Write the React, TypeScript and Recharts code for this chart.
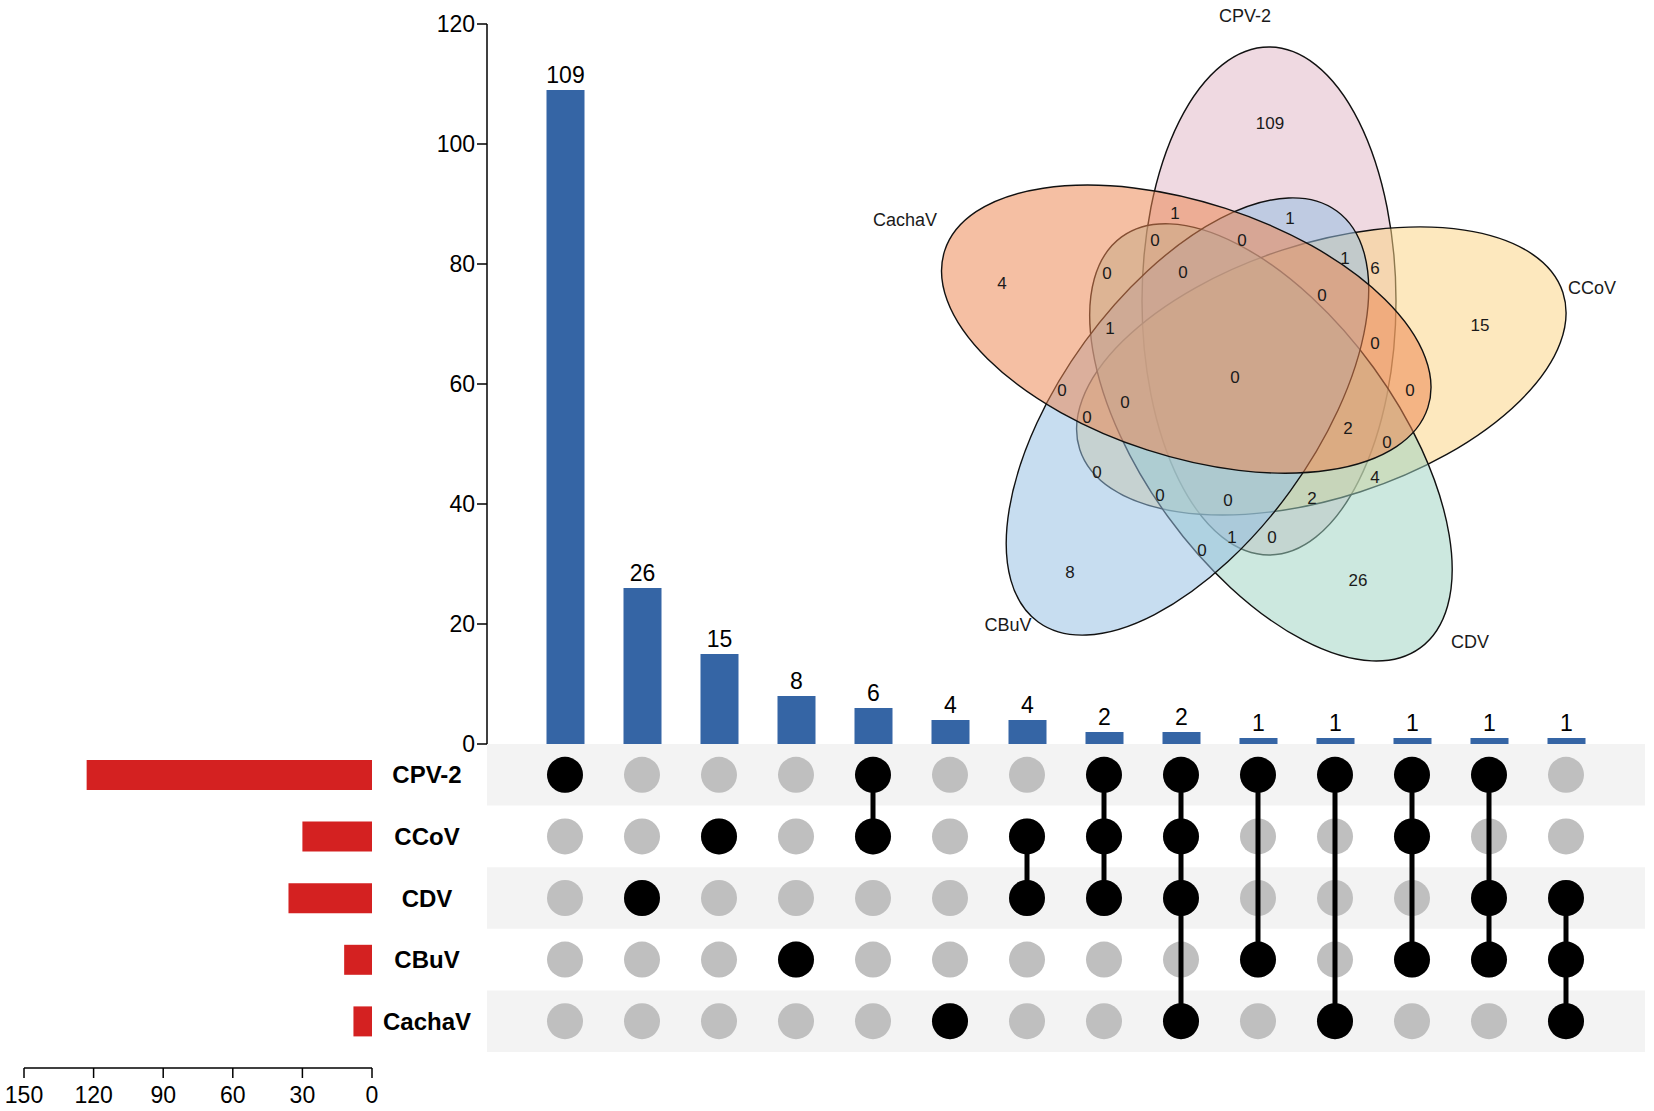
import React from 'react';
import {
  BarChart,
  Bar,
  XAxis,
  YAxis,
  LabelList,
  ScatterChart,
  Scatter,
  ReferenceArea,
} from 'recharts';

// ---------------- DATA ----------------
const sets = ['CPV-2', 'CCoV', 'CDV', 'CBuV', 'CachaV'];
const setSizes = [123, 30, 36, 12, 8];
const setSizeTicks = [0, 30, 60, 90, 120, 150];

const intersectionSizes = [109, 26, 15, 8, 6, 4, 4, 2, 2, 1, 1, 1, 1, 1];
const intersectionMembers = [
  ['CPV-2'],
  ['CDV'],
  ['CCoV'],
  ['CBuV'],
  ['CPV-2', 'CCoV'],
  ['CachaV'],
  ['CCoV', 'CDV'],
  ['CPV-2', 'CCoV', 'CDV'],
  ['CPV-2', 'CCoV', 'CDV', 'CachaV'],
  ['CPV-2', 'CBuV'],
  ['CPV-2', 'CachaV'],
  ['CPV-2', 'CCoV', 'CBuV'],
  ['CPV-2', 'CDV', 'CBuV'],
  ['CDV', 'CBuV', 'CachaV'],
];
const intersectionTicks = [0, 20, 40, 60, 80, 100, 120];

// Venn: region counts (value) and set names, in the order of the label layout below
const vennCounts = [109, 1, 1, 0, 0, 1, 6, 4, 0, 0, 0, 15, 1, 0, 0, 0, 0, 0, 0, 2, 0, 0, 4, 0, 0, 2, 1, 0, 0, 8, 26];
const vennSetNames = ['CPV-2', 'CCoV', 'CDV', 'CBuV', 'CachaV'];

// ---------------- LAYOUT / STYLE ----------------
const W = 1654;
const H = 1111;
const FONT = '"Liberation Sans", Arial, Helvetica, sans-serif';
const BLUE = '#3565a5';
const RED = '#d42121';
const GREY_DOT = '#bfbfbf';
const ROW_BG = '#f3f3f3';

const PLOT_LEFT = 487;
const PLOT_RIGHT = 1645;
const BAR_TOP = 24;
const BAR_BOTTOM = 744;
const MATRIX_BOTTOM = 1052;
const FIRST_CENTER = 565;
const COL_STEP = 77;
const N_COL = intersectionSizes.length;
const PAD_LEFT = FIRST_CENTER - COL_STEP / 2 - PLOT_LEFT;
const PAD_RIGHT = PLOT_RIGHT - (FIRST_CENTER + COL_STEP * (N_COL - 0.5));
const X_LO = -(FIRST_CENTER - PLOT_LEFT) / COL_STEP;
const X_HI = N_COL - 1 + (PLOT_RIGHT - (FIRST_CENTER + COL_STEP * (N_COL - 1))) / COL_STEP;
const DOT_R = 18;

const SET_AXIS_LEFT = 24;
const SET_AXIS_RIGHT = 372;
const SET_AXIS_Y = 1068;
const SET_LABEL_CENTER = 427;

// Venn layout (pixels, relative to figure centre)
const VENN_CX = 1247;
const VENN_CY = 372;
const VENN_LEFT = 860;
const VENN_TOP = 0;
const VENN_W = W - VENN_LEFT;
const VENN_H = 700;
const VENN_A = 254; // semi-major
const VENN_B = 127; // semi-minor
const VENN_OFFSET = [22, -71]; // centre offset of first ellipse
const VENN_STEP = 72;
const vennFills = ['#e1b7c7', '#fbd385', '#9fd3c3', '#95bfe3', '#ed8751'];
const vennCountPos = [
  [23, -249], [43, -154], [-72, -159], [-92, -132], [-5, -132], [98, -114], [128, -104],
  [-245, -89], [-140, -99], [-64, -100], [75, -77], [233, -47], [-137, -44], [128, -29],
  [-12, 5], [-185, 18], [163, 18], [-122, 30], [-160, 45], [101, 56], [140, 70],
  [-150, 100], [128, 105], [-87, 123], [-19, 128], [65, 126], [-15, 165], [25, 165],
  [-45, 178], [-177, 200], [111, 208],
];
const vennNamePos = [[-2, -356], [345, -84], [223, 270], [-239, 253], [-342, -152]];

const rotate = (dx: number, dy: number, deg: number) => {
  const t = (deg * Math.PI) / 180;
  return [dx * Math.cos(t) - dy * Math.sin(t), dx * Math.sin(t) + dy * Math.cos(t)];
};

// ---------------- TABLES ----------------
const barData = intersectionSizes.map((v, i) => ({ name: `I${i + 1}`, value: v }));
const setData = sets.map((s, i) => ({ name: s, size: setSizes[i] }));
const cellData = intersectionMembers.flatMap((_, c) =>
  sets.map((s, r) => ({ x: c, y: r + 0.5 }))
);
const columnData = intersectionMembers.map((m, c) =>
  sets
    .map((s, r) => ({ s, r }))
    .filter((o) => m.includes(o.s))
    .map((o) => ({ x: c, y: o.r + 0.5 }))
);
const ellipseData = vennSetNames.map((n, i) => {
  const [x, y] = rotate(VENN_OFFSET[0], VENN_OFFSET[1], VENN_STEP * i);
  return { x, y, rot: VENN_STEP * i, fill: vennFills[i], name: n };
});
const countData = vennCounts.map((v, i) => ({ x: vennCountPos[i][0], y: vennCountPos[i][1], label: String(v) }));
const nameData = vennSetNames.map((n, i) => ({ x: vennNamePos[i][0], y: vennNamePos[i][1], label: n }));

// ---------------- COMPONENTS ----------------
const axisStroke = { stroke: '#000', strokeWidth: 1.5 };

function IntersectionBars() {
  return (
    <BarChart
      width={W}
      height={BAR_BOTTOM + 16}
      data={barData}
      margin={{ top: BAR_TOP, right: W - PLOT_RIGHT, bottom: 16, left: PLOT_LEFT - 60 }}
    >
      <XAxis dataKey="name" type="category" hide padding={{ left: PAD_LEFT, right: PAD_RIGHT }} />
      <YAxis
        width={60}
        type="number"
        domain={[0, 120]}
        ticks={intersectionTicks}
        interval={0}
        tickSize={10}
        tickMargin={2}
        axisLine={axisStroke}
        tickLine={axisStroke}
        tick={{ fontSize: 23, fill: '#000', fontFamily: FONT }}
      />
      <Bar dataKey="value" fill={BLUE} barSize={38} isAnimationActive={false}>
        <LabelList dataKey="value" position="top" offset={7} fill="#000" fontSize={23} fontFamily={FONT} />
      </Bar>
    </BarChart>
  );
}

function Matrix() {
  return (
    <ScatterChart
      width={W}
      height={H}
      margin={{ top: BAR_BOTTOM, right: W - PLOT_RIGHT, bottom: H - MATRIX_BOTTOM, left: PLOT_LEFT }}
    >
      <XAxis dataKey="x" type="number" domain={[X_LO, X_HI]} allowDataOverflow hide />
      <YAxis dataKey="y" type="number" domain={[0, sets.length]} reversed allowDataOverflow hide />
      {sets.map((s, r) =>
        r % 2 === 0 ? (
          <ReferenceArea key={s} x1={X_LO} x2={X_HI} y1={r} y2={r + 1} fill={ROW_BG} fillOpacity={1} stroke="none" />
        ) : null
      )}
      <Scatter
        data={cellData}
        isAnimationActive={false}
        shape={(p: any) => <circle cx={p.cx} cy={p.cy} r={DOT_R} fill={GREY_DOT} />}
      />
      {columnData.map((d, c) => (
        <Scatter
          key={c}
          data={d}
          isAnimationActive={false}
          line={{ stroke: '#000', strokeWidth: 5 }}
          lineType="joint"
          shape={(p: any) => <circle cx={p.cx} cy={p.cy} r={DOT_R} fill="#000" />}
        />
      ))}
    </ScatterChart>
  );
}

const SetTick = (props: any) => {
  const { x, y, payload } = props;
  return (
    <text x={x} y={y} dy="0.36em" textAnchor="middle" fontSize={24} fontWeight="bold" fill="#000" fontFamily={FONT}>
      {payload.value}
    </text>
  );
};

function SetSizes() {
  const yAxisW = PLOT_LEFT - SET_AXIS_RIGHT;
  return (
    <BarChart
      layout="vertical"
      width={PLOT_LEFT}
      height={H}
      data={setData}
      margin={{ top: BAR_BOTTOM, right: 0, bottom: 0, left: SET_AXIS_LEFT }}
    >
      <XAxis
        type="number"
        domain={[0, 150]}
        ticks={setSizeTicks}
        interval={0}
        reversed
        height={H - SET_AXIS_Y}
        tickSize={10}
        tickMargin={9}
        axisLine={axisStroke}
        tickLine={axisStroke}
        tick={{ fontSize: 23, fill: '#000', fontFamily: FONT }}
      />
      <YAxis
        type="category"
        dataKey="name"
        orientation="right"
        width={yAxisW}
        padding={{ top: 0, bottom: SET_AXIS_Y - MATRIX_BOTTOM }}
        axisLine={false}
        tickLine={false}
        tickSize={0}
        tickMargin={SET_LABEL_CENTER - SET_AXIS_RIGHT}
        interval={0}
        tick={<SetTick />}
      />
      <Bar dataKey="size" fill={RED} barSize={30} isAnimationActive={false} />
    </BarChart>
  );
}

function Venn() {
  return (
    <ScatterChart width={VENN_W} height={VENN_H} margin={{ top: 0, right: 0, bottom: 0, left: 0 }}>
      <XAxis
        dataKey="x"
        type="number"
        domain={[VENN_LEFT - VENN_CX, VENN_LEFT + VENN_W - VENN_CX]}
        allowDataOverflow
        hide
      />
      <YAxis
        dataKey="y"
        type="number"
        domain={[VENN_TOP - VENN_CY, VENN_TOP + VENN_H - VENN_CY]}
        reversed
        allowDataOverflow
        hide
      />
      <Scatter
        data={ellipseData}
        isAnimationActive={false}
        shape={(p: any) => (
          <ellipse
            cx={p.cx}
            cy={p.cy}
            rx={VENN_B}
            ry={VENN_A}
            transform={`rotate(${p.payload.rot} ${p.cx} ${p.cy})`}
            fill={p.payload.fill}
            fillOpacity={0.53}
            stroke="#111"
            strokeWidth={1.4}
          />
        )}
      />
      <Scatter
        data={countData}
        isAnimationActive={false}
        shape={(p: any) => (
          <text x={p.cx} y={p.cy} dy="0.36em" textAnchor="middle" fontSize={17} fill="#1a1a1a" fontFamily={FONT}>
            {p.payload.label}
          </text>
        )}
      />
      <Scatter
        data={nameData}
        isAnimationActive={false}
        shape={(p: any) => (
          <text x={p.cx} y={p.cy} dy="0.36em" textAnchor="middle" fontSize={18} fill="#1a1a1a" fontFamily={FONT}>
            {p.payload.label}
          </text>
        )}
      />
    </ScatterChart>
  );
}

export default function App() {
  return (
    <div style={{ position: 'absolute', left: 0, top: 0, width: W, height: H, background: '#fff', fontFamily: FONT, overflow: 'hidden' }}>
      <div style={{ position: 'absolute', left: 0, top: 0 }}>
        <IntersectionBars />
      </div>
      <div style={{ position: 'absolute', left: 0, top: 0 }}>
        <Matrix />
      </div>
      <div style={{ position: 'absolute', left: 0, top: 0 }}>
        <SetSizes />
      </div>
      <div style={{ position: 'absolute', left: VENN_LEFT, top: VENN_TOP }}>
        <Venn />
      </div>
    </div>
  );
}
